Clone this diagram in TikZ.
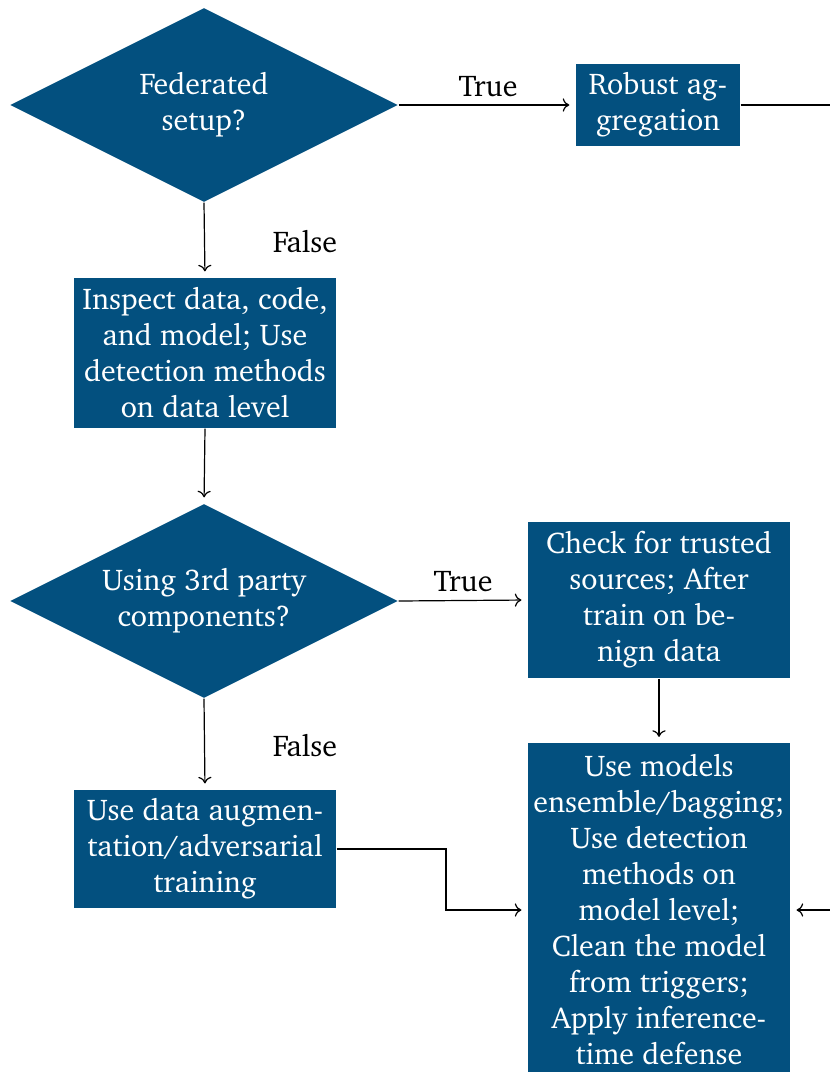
\documentclass[tikz,border=0pt]{standalone}
\usepackage[T1]{fontenc}
\usepackage{charter}
\usetikzlibrary{shapes.geometric,arrows.meta}
\definecolor{boxblue}{RGB}{3,80,127}
\tikzset{
  decision/.style={diamond, fill=boxblue, text=white, aspect=2, inner sep=0pt,
    minimum width=129.3pt, minimum height=64.7pt, align=center, font=\normalsize},
  stepbox/.style={rectangle, fill=boxblue, text=white, inner sep=0pt,
    minimum width=87.3pt, align=center, font=\normalsize},
  conn/.style={draw=black, line width=0.4pt, -{To[length=2.2pt,width=4.4pt]}, shorten >=2pt},
  plainconn/.style={draw=black, line width=0.4pt},
  lbl/.style={text=black, font=\normalsize, inner sep=0pt}
}
\begin{document}
\begin{tikzpicture}[x=0.3333pt, y=-0.3333pt]
\useasboundingbox (0,0) rectangle (830,1072);
\node[decision] (d1) at (204,105) {Federated\\setup?};
\node[stepbox, minimum width=54.7pt, minimum height=27.3pt] (ra) at (658,105) {Robust ag-\\gregation};
\node[stepbox, minimum height=50pt] (b2) at (205,353) {Inspect data, code,\\and model; Use\\detection methods\\on data level};
\node[decision] (d2) at (204,601) {Using 3rd party\\components?};
\node[stepbox, minimum height=52pt] (b3) at (659,600) {Check for trusted\\sources; After\\train on be-\\nign data};
\node[stepbox, minimum height=111pt] (b4) at (659,910) {Use models\\ensemble/bagging;\\Use detection\\methods on\\model level;\\Clean the model\\from triggers;\\Apply inference-\\time defense};
\node[stepbox, minimum height=39.3pt] (b5) at (205,849) {Use data augmen-\\tation/adversarial\\training};

\node[lbl] (t1) at (488,86) {True};
\node[lbl] (f1) at (305,242) {False};
\node[lbl] (t2) at (463,581) {True};
\node[lbl] (f2) at (305,746) {False};

\coordinate (rr1) at (880,105);
\coordinate (rr2) at (880,910);
\coordinate (j1) at (446,849);

\draw[conn] (d1.east) -- (ra.west);
\draw[conn] (d1.south) -- (b2.north);
\draw[conn] (b2.south) -- (d2.north);
\draw[conn] (d2.east) -- (b3.west);
\draw[conn] (d2.south) -- (b5.north);
\draw[conn] (b3.south) -- (b4.north);
\draw[conn] (b5.east) -- (j1) |- (b4.west);
\draw[conn] (ra.east) -- (rr1) -- (rr2) -- (b4.east);
\end{tikzpicture}
\end{document}
